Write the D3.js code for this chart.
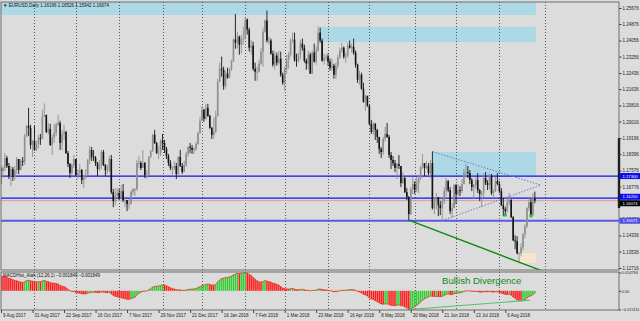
<!DOCTYPE html>
<html>
<head>
<meta charset="utf-8">
<script src="https://cdn.jsdelivr.net/npm/d3@7"></script>
<style>
  body { margin: 0; background: #dcdcdc; }
  svg { display: block; font-family: "Liberation Sans", Arial, sans-serif; }
</style>
</head>
<body>
<script>
const width = 640;
const height = 321;

// ---- data ----
const chartTitle = "EURUSD,Daily";
const startDate = new Date(2017, 7, 9);
const holidays = ["2017-12-25", "2018-01-01"];
const firstOpen = 1.1765;

const closes = [
  // Aug 2017
  1.1755,1.1770,1.1820,1.1780,1.1730,1.1765,1.1725,1.1760,1.1815,1.1760,1.1805,1.1800,1.1925,1.1980,1.1970,1.1885,1.1905,
  // Sep
  1.1860,1.1890,1.1920,1.1915,1.2025,1.2035,1.1950,1.1965,1.1885,1.1920,1.1945,1.1985,1.1995,1.1895,1.1940,1.1950,1.1845,1.1790,1.1745,1.1785,1.1815,
  // Oct
  1.1735,1.1745,1.1760,1.1710,1.1730,1.1735,1.1810,1.1860,1.1825,1.1820,1.1795,1.1765,1.1785,1.1850,1.1785,1.1760,1.1760,1.1815,1.1650,1.1605,1.1630,1.1645,
  // Nov
  1.1620,1.1655,1.1610,1.1610,1.1590,1.1590,1.1650,1.1665,1.1665,1.1795,1.1795,1.1770,1.1795,1.1735,1.1735,1.1825,1.1855,1.1935,1.1895,1.1845,1.1845,1.1905,
  // Dec
  1.1895,1.1865,1.1830,1.1795,1.1770,1.1770,1.1780,1.1740,1.1825,1.1780,1.1750,1.1785,1.1840,1.1875,1.1870,1.1860,1.1865,1.1890,1.1945,1.2005,
  // Jan 2018
  1.2060,1.2015,1.2070,1.2030,1.1970,1.1935,1.1950,1.2030,1.2200,1.2265,1.2260,1.2180,1.2240,1.2220,1.2260,1.2300,1.2410,1.2395,1.2425,1.2385,1.2415,1.2415,
  // Feb
  1.2510,1.2460,1.2370,1.2380,1.2265,1.2250,1.2250,1.2290,1.2350,1.2450,1.2505,1.2405,1.2405,1.2340,1.2285,1.2330,1.2295,1.2315,1.2235,1.2195,
  // Mar
  1.2265,1.2310,1.2335,1.2405,1.2410,1.2310,1.2305,1.2335,1.2390,1.2370,1.2305,1.2290,1.2335,1.2240,1.2345,1.2300,1.2355,1.2445,1.2405,1.2305,1.2320,1.2325,
  // Apr
  1.2300,1.2270,1.2280,1.2235,1.2280,1.2320,1.2355,1.2370,1.2325,1.2330,1.2380,1.2370,1.2375,1.2345,1.2285,1.2210,1.2235,1.2165,1.2100,1.2130,1.2080,
  // May
  1.1990,1.1950,1.1990,1.1960,1.1925,1.1865,1.1850,1.1915,1.1940,1.1925,1.1835,1.1810,1.1795,1.1770,1.1790,1.1780,1.1695,1.1720,1.1650,1.1625,1.1540,1.1665,1.1690,
  // Jun
  1.1660,1.1695,1.1720,1.1775,1.1795,1.1770,1.1780,1.1745,1.1795,1.1570,1.1610,1.1625,1.1585,1.1570,1.1605,1.1655,1.1705,1.1660,1.1555,1.1570,1.1685,
  // Jul
  1.1640,1.1660,1.1655,1.1690,1.1745,1.1750,1.1745,1.1710,1.1675,1.1685,1.1710,1.1660,1.1640,1.1645,1.1720,1.1695,1.1685,1.1730,1.1645,1.1655,1.1705,1.1690,
  // Aug
  1.1655,1.1585,1.1565,1.1555,1.1600,1.1610,1.1525,1.1410,1.1405,1.1345,1.1345,1.1375,1.1440,1.1480,1.1570,1.1600,1.1535,1.16196,1.16074
];

const highs = [
  1.1775,1.1782,1.1845,1.1830,1.1795,1.1780,1.1775,1.1780,1.1825,1.1815,1.1815,1.1825,1.1940,1.1985,1.2070,1.1985,1.1910,
  1.1980,1.1905,1.1935,1.1940,1.2060,1.2092,1.2035,1.1995,1.1990,1.1935,1.1990,1.1995,1.2035,1.2005,1.1960,1.1985,1.1955,1.1855,1.1795,1.1790,1.1835,
  1.1815,1.1765,1.1790,1.1765,1.1735,1.1765,1.1815,1.1880,1.1875,1.1860,1.1830,1.1800,1.1810,1.1860,1.1860,1.1790,1.1785,1.1830,1.1835,1.1665,1.1670,1.1670,
  1.1665,1.1685,1.1690,1.1620,1.1610,1.1615,1.1660,1.1670,1.1670,1.1810,1.1830,1.1805,1.1860,1.1800,1.1760,1.1830,1.1860,1.1940,1.1960,1.1900,1.1880,1.1915,
  1.1940,1.1910,1.1875,1.1840,1.1810,1.1780,1.1805,1.1795,1.1830,1.1860,1.1795,1.1805,1.1850,1.1880,1.1895,1.1885,1.1875,1.1900,1.1950,1.2025,
  1.2080,1.2065,1.2090,1.2090,1.2035,1.1975,1.2020,1.2055,1.2215,1.2295,1.2325,1.2275,1.2255,1.2270,1.2270,1.2310,1.2415,1.2537,1.2450,1.2430,1.2435,1.2475,
  1.2520,1.2515,1.2470,1.2410,1.2400,1.2295,1.2275,1.2310,1.2370,1.2470,1.2510,1.2555,1.2425,1.2415,1.2355,1.2355,1.2345,1.2355,1.2350,1.2245,
  1.2275,1.2335,1.2350,1.2415,1.2445,1.2445,1.2340,1.2345,1.2410,1.2415,1.2385,1.2315,1.2355,1.2345,1.2355,1.2390,1.2375,1.2476,1.2470,1.2415,1.2340,1.2335,
  1.2340,1.2315,1.2315,1.2290,1.2295,1.2335,1.2370,1.2395,1.2375,1.2345,1.2395,1.2405,1.2390,1.2415,1.2355,1.2290,1.2255,1.2245,1.2195,1.2135,1.2130,
  1.2085,1.2010,1.2000,1.1995,1.1965,1.1925,1.1875,1.1925,1.1975,1.1995,1.1935,1.1850,1.1830,1.1810,1.1795,1.1835,1.1780,1.1750,1.1725,1.1670,1.1630,1.1675,1.1725,
  1.1705,1.1725,1.1735,1.1780,1.1840,1.1795,1.1805,1.1795,1.1810,1.1852,1.1625,1.1645,1.1625,1.1605,1.1620,1.1675,1.1720,1.1710,1.1675,1.1595,1.1690,
  1.1690,1.1690,1.1680,1.1715,1.1765,1.1791,1.1780,1.1760,1.1720,1.1690,1.1725,1.1745,1.1665,1.1655,1.1745,1.1750,1.1710,1.1745,1.1740,1.1665,1.1725,1.1745,
  1.1705,1.1670,1.1620,1.1575,1.1620,1.1645,1.1615,1.1530,1.1435,1.1430,1.1350,1.1395,1.1445,1.1490,1.1575,1.1625,1.1615,1.1645,1.16526
];

const lows = [
  1.1690,1.1720,1.1755,1.1770,1.1715,1.1680,1.1705,1.1710,1.1740,1.1740,1.1765,1.1780,1.1785,1.1930,1.1930,1.1865,1.1825,
  1.1855,1.1855,1.1870,1.1885,1.1925,1.2025,1.1945,1.1935,1.1880,1.1835,1.1895,1.1930,1.1980,1.1860,1.1860,1.1910,1.1840,1.1775,1.1720,1.1735,1.1770,
  1.1730,1.1715,1.1735,1.1690,1.1670,1.1715,1.1730,1.1790,1.1805,1.1805,1.1780,1.1730,1.1755,1.1765,1.1780,1.1730,1.1740,1.1750,1.1640,1.1575,1.1585,1.1630,
  1.1610,1.1615,1.1600,1.1575,1.1555,1.1565,1.1590,1.1635,1.1630,1.1655,1.1770,1.1760,1.1770,1.1720,1.1715,1.1730,1.1820,1.1850,1.1890,1.1840,1.1815,1.1830,
  1.1860,1.1845,1.1815,1.1780,1.1760,1.1730,1.1760,1.1715,1.1730,1.1775,1.1740,1.1755,1.1775,1.1825,1.1845,1.1840,1.1840,1.1855,1.1885,1.1940,
  1.2005,1.2000,1.2010,1.2025,1.1965,1.1915,1.1915,1.1945,1.2025,1.2200,1.2225,1.2160,1.2165,1.2215,1.2225,1.2255,1.2300,1.2365,1.2365,1.2335,1.2340,1.2385,
  1.2410,1.2435,1.2350,1.2335,1.2255,1.2205,1.2205,1.2245,1.2285,1.2275,1.2445,1.2395,1.2385,1.2335,1.2275,1.2260,1.2280,1.2285,1.2225,1.2185,
  1.2155,1.2240,1.2265,1.2325,1.2395,1.2300,1.2275,1.2295,1.2310,1.2355,1.2295,1.2260,1.2260,1.2240,1.2240,1.2295,1.2285,1.2350,1.2395,1.2300,1.2285,1.2305,
  1.2280,1.2255,1.2255,1.2215,1.2215,1.2265,1.2315,1.2345,1.2315,1.2295,1.2320,1.2365,1.2345,1.2335,1.2270,1.2195,1.2185,1.2160,1.2095,1.2055,1.2075,
  1.1985,1.1940,1.1935,1.1910,1.1895,1.1840,1.1820,1.1835,1.1900,1.1920,1.1820,1.1765,1.1780,1.1750,1.1715,1.1765,1.1675,1.1690,1.1645,1.1610,1.1510,1.1535,1.1640,
  1.1640,1.1650,1.1645,1.1710,1.1765,1.1730,1.1765,1.1735,1.1720,1.1563,1.1540,1.1565,1.1530,1.1535,1.1508,1.1590,1.1630,1.1650,1.1540,1.1525,1.1570,
  1.1590,1.1630,1.1630,1.1645,1.1690,1.1725,1.1720,1.1690,1.1655,1.1615,1.1665,1.1645,1.1605,1.1575,1.1625,1.1685,1.1660,1.1665,1.1635,1.1620,1.1650,1.1685,
  1.1645,1.1580,1.1530,1.1530,1.1550,1.1585,1.1520,1.1405,1.1365,1.1340,1.1301,1.1330,1.1360,1.1420,1.1470,1.1555,1.1530,1.1530,1.15942
];

// MACD histogram (12,26,1), in units of 0.0001
const macdPips = [
  119,116,115,110,102,97,89,84,81,74,71,67,74,82,85,80,78,
  73,72,73,72,80,83,77,74,66,63,61,58,55,44,38,34,24,12,0,-5,-6,
  -13,-17,-19,-24,-25,-25,-20,-14,-12,-11,-12,-14,-14,-9,-11,-14,-15,-12,-24,-37,-44,-48,
  -54,-56,-61,-64,-68,-69,-64,-57,-51,-33,-20,-12,-4,-3,-2,8,17,30,36,37,38,44,
  48,47,41,33,25,18,14,8,9,7,3,3,6,11,13,14,15,18,25,33,
  42,45,52,54,51,47,46,52,70,87,99,101,106,108,112,117,129,135,141,140,142,143,
  147.94,144,133,124,108,93,80,72,70,75,82,78,74,70,62,58,52,46,34,22,
  17,15,14,17,19,13,9,8,11,12,8,4,4,-1,3,3,6,13,15,10,8,7,
  4,0,-2,-7,-7,-4,0,4,3,4,8,9,10,8,3,-5,-9,-17,-28,-33,-42,
  -56,-66,-70,-80,-88,-98,-106,-108,-106,-105,-112,-117,-119,-120,-117,-114,-121,-122,-130,-138,-151.11,-146,-138,
  -129,-118,-106,-91,-76,-66,-56,-50,-40,-45,-46,-45,-47,-48,-44,-37,-28,-25,-30,-31,-22,
  -21,-18,-16,-12,-6,-2,0,-1,-4,-5,-4,-7,-10,-11,-7,-7,-8,-5,-9,-10,-8,-8,
  -12,-18,-24,-29,-29,-28,-35,-50,-61,-73,-80,-82,-78,-71,-58,-45,-41,-30,-18.49
];

const priceTicks = [1.12716, 1.13536, 1.14336, 1.15156, 1.15956, 1.16776, 1.17576, 1.18396, 1.19196,
  1.20016, 1.20816, 1.21636, 1.22436, 1.23256, 1.24056, 1.24876, 1.25676];
const levels = [1.17300, 1.16200, 1.15071];

// drawn objects: bar index + price
const zones = [
  {from: -1, to: 271.5, top: 1.2640, bottom: 1.2533},
  {from: 162, to: 271.5, top: 1.2473, bottom: 1.2398},
  {from: 219, to: 271.5, top: 1.1850, bottom: 1.1730}
];
const peachBox = {from: 263, to: 271.5, top: 1.1346, bottom: 1.1297};
const triangleLines = [[219, 1.1852, 274, 1.1685], [224, 1.1508, 274, 1.1685]];
const trendLine = [207, 1.1510, 263, 1.1301];
const arrowMarks = [[256, 1.1536], [269, 1.1531]];
const divergenceLine = [207, -151.11, 268.5, -76];

// ---- layout ----
const panelL = 1, panelR = 619;
const mainTop = 2, mainBottom = 270;
const subTop = 272, subBottom = 310;

const svg = d3.select("body").append("svg")
    .attr("width", width)
    .attr("height", height);

svg.append("rect").attr("width", width).attr("height", height).attr("fill", "#dcdcdc");

// trading calendar (weekdays without the two holidays)
const dates = [];
const dayKey = d3.timeFormat("%Y-%m-%d");
for (let d = new Date(startDate); dates.length < closes.length + 8; d.setDate(d.getDate() + 1)) {
    if (d.getDay() === 0 || d.getDay() === 6 || holidays.includes(dayKey(d))) continue;
    dates.push(new Date(d));
}

const bars = closes.map((c, i) => {
    const o = i === 0 ? firstOpen : closes[i - 1];
    return {i, o, c, h: Math.max(highs[i], o, c), l: Math.min(lows[i], o, c)};
});

const x = d3.scaleLinear().domain([0, 256]).range([1, 505.3]);
const y = d3.scaleLinear().domain([priceTicks[0], priceTicks[priceTicks.length - 1]]).range([268, 8]);

const macd = macdPips.map(v => v / 10000);
const ym = d3.scaleLinear().domain(d3.extent(macd)).range([309.5, 272.5]);

const defs = svg.append("defs");
defs.append("clipPath").attr("id", "clipMain").append("rect")
    .attr("x", panelL).attr("y", mainTop).attr("width", panelR - panelL).attr("height", mainBottom - mainTop);
defs.append("clipPath").attr("id", "clipSub").append("rect")
    .attr("x", panelL).attr("y", subTop).attr("width", panelR - panelL).attr("height", subBottom - subTop);

const main = svg.append("g").attr("clip-path", "url(#clipMain)");
const sub = svg.append("g").attr("clip-path", "url(#clipSub)");

// zones
main.selectAll(".zone").data(zones).enter().append("rect")
    .attr("x", d => x(d.from)).attr("width", d => x(d.to) - x(d.from))
    .attr("y", d => y(d.top)).attr("height", d => y(d.bottom) - y(d.top))
    .attr("fill", "#add8e6");
main.append("rect")
    .attr("x", x(peachBox.from)).attr("width", x(peachBox.to) - x(peachBox.from))
    .attr("y", y(peachBox.top)).attr("height", y(peachBox.bottom) - y(peachBox.top))
    .attr("fill", "#f6e4cc");

// month separators
const monthStarts = d3.range(1, dates.length).filter(i => dates[i].getMonth() !== dates[i - 1].getMonth() && x(i) < panelR);
[[main, mainTop, mainBottom], [sub, subTop, subBottom]].forEach(([g, t, b]) => {
    g.selectAll(".sep").data(monthStarts).enter().append("line")
        .attr("x1", d => Math.round(x(d)) + 0.5).attr("x2", d => Math.round(x(d)) + 0.5)
        .attr("y1", t).attr("y2", b)
        .attr("stroke", "#555").attr("stroke-dasharray", "1,2");
});

// horizontal levels
main.selectAll(".level").data(levels).enter().append("line")
    .attr("x1", panelL).attr("x2", panelR)
    .attr("y1", d => y(d)).attr("y2", d => y(d))
    .attr("stroke", (d, i) => i === 2 ? "#5a5ae0" : "#1010f0")
    .attr("stroke-width", (d, i) => i === 2 ? 2 : 1.3);
main.append("line")
    .attr("x1", panelL).attr("x2", panelR)
    .attr("y1", y(closes[closes.length - 1])).attr("y2", y(closes[closes.length - 1]))
    .attr("stroke", "#e49a9a").attr("stroke-width", 1);

// triangle (dotted)
main.selectAll(".tri").data(triangleLines).enter().append("line")
    .attr("x1", d => x(d[0])).attr("y1", d => y(d[1]))
    .attr("x2", d => x(d[2])).attr("y2", d => y(d[3]))
    .attr("stroke", "#7676c8").attr("stroke-dasharray", "1.5,1.5");

// candles
const candle = main.selectAll(".bar").data(bars).enter().append("g")
    .attr("stroke", d => d.c >= d.o ? "#8e8e8e" : "#141414")
    .attr("fill", d => d.c >= d.o ? "#8e8e8e" : "#141414");
candle.append("line")
    .attr("x1", d => x(d.i)).attr("x2", d => x(d.i))
    .attr("y1", d => y(d.h)).attr("y2", d => y(d.l))
    .attr("stroke-width", 0.9);
candle.append("rect")
    .attr("x", d => x(d.i) - 0.8).attr("width", 1.6)
    .attr("y", d => y(Math.max(d.o, d.c)))
    .attr("height", d => Math.max(0.8, Math.abs(y(d.o) - y(d.c))))
    .attr("stroke", "none");

// support trend line
const tSlope = (trendLine[3] - trendLine[1]) / (trendLine[2] - trendLine[0]);
main.append("line")
    .attr("x1", x(trendLine[0])).attr("y1", y(trendLine[1]))
    .attr("x2", x(280)).attr("y2", y(trendLine[1] + tSlope * (280 - trendLine[0])))
    .attr("stroke", "#0b8a0b").attr("stroke-width", 1.4);

main.selectAll(".mark").data(arrowMarks).enter().append("rect")
    .attr("x", d => x(d[0]) - 1.5).attr("y", d => y(d[1]) - 1.5)
    .attr("width", 3).attr("height", 3).attr("fill", "#22c04a");

// ---- MACD window ----
sub.selectAll(".hist").data(macd).enter().append("rect")
    .attr("x", (d, i) => x(i) - 0.75).attr("width", 1.5)
    .attr("y", d => Math.min(ym(0), ym(d)))
    .attr("height", d => Math.abs(ym(d) - ym(0)))
    .attr("fill", (d, i) => i > 0 && d > macd[i - 1] ? "#33cc33" : "#ff1a1a");
sub.append("path")
    .datum(macd)
    .attr("d", d3.line().x((d, i) => x(i)).y(d => ym(d)))
    .attr("fill", "none").attr("stroke", "#e03a22").attr("stroke-width", 0.8);
sub.append("line")
    .attr("x1", x(divergenceLine[0])).attr("y1", ym(divergenceLine[1] / 10000))
    .attr("x2", x(divergenceLine[2])).attr("y2", ym(divergenceLine[3] / 10000))
    .attr("stroke", "#5cbf78").attr("stroke-width", 1.2);
svg.append("text")
    .attr("x", 442).attr("y", 283.5)
    .attr("font-size", 9.6).attr("fill", "#13871a")
    .text("Bullish Divergence");

const lastMacd = d3.format(".6f")(macd[macd.length - 1]);
svg.append("text")
    .attr("x", 3).attr("y", 276.8)
    .attr("font-size", 4.5).attr("fill", "#111")
    .text(`MACDHist_Alah (12,26,1) ${lastMacd} ${lastMacd}`);

// ---- frames ----
const frame = svg.append("g").attr("fill", "none").attr("stroke", "#6e6e6e");
frame.append("rect").attr("x", panelL).attr("y", mainTop).attr("width", panelR - panelL).attr("height", mainBottom - mainTop);
frame.append("rect").attr("x", panelL).attr("y", subTop).attr("width", panelR - panelL).attr("height", subBottom - subTop);
svg.append("rect").attr("x", 617.8).attr("y", 138).attr("width", 2.4).attr("height", 70).attr("fill", "#1e1e1e");

// ---- axes ----
const yAxis = svg.append("g").attr("transform", `translate(${panelR},0)`)
    .call(d3.axisRight(y).tickValues(priceTicks).tickFormat(d3.format(".5f")).tickSize(2.5).tickPadding(1));
const mAxis = svg.append("g").attr("transform", `translate(${panelR},0)`)
    .call(d3.axisRight(ym).tickValues([ym.domain()[0], 0, ym.domain()[1]])
        .tickFormat(d => d === 0 ? "0.00" : d3.format(".6f")(d)).tickSize(2).tickPadding(0.6));
const fmtDate = d3.timeFormat("%-d %b %Y");
const xAxis = svg.append("g").attr("transform", `translate(0,${subBottom})`)
    .call(d3.axisBottom(x).tickValues(d3.range(0, closes.length, 16)).tickFormat(i => fmtDate(dates[i])).tickSize(3).tickPadding(1));
xAxis.selectAll("text").attr("text-anchor", "start").attr("dx", 1.5);
[yAxis, mAxis, xAxis].forEach(a => {
    a.select(".domain").remove();
    a.selectAll("line").attr("stroke", "#444");
    a.selectAll("text").attr("font-size", 4.5).attr("fill", "#222")
        .attr("font-family", "'Liberation Sans', Arial, sans-serif");
});
mAxis.selectAll("text").attr("font-size", 3.9);

// price tags on the right scale
const tags = [
    {p: closes[closes.length - 1], fill: "#000", dy: 2.6},
    {p: levels[0], fill: "#0c0cf0", dy: 0},
    {p: levels[1], fill: "#0c0cf0", dy: -1.3},
    {p: levels[2], fill: "#5050e6", dy: 0}
];
const tag = svg.selectAll(".tag").data(tags).enter().append("g")
    .attr("transform", d => `translate(${panelR + 0.5},${y(d.p) + d.dy})`);
tag.append("rect").attr("x", 0).attr("y", -3).attr("width", 21).attr("height", 6).attr("fill", d => d.fill);
tag.append("text").attr("x", 3).attr("dy", "0.35em")
    .attr("font-size", 4.2).attr("fill", "#fff").text(d => d3.format(".5f")(d.p));

// title
const last = bars[bars.length - 1];
svg.append("text")
    .attr("x", 3).attr("y", 6.8).attr("font-size", 4.5).attr("fill", "#111")
    .text(`\u25BC ${chartTitle}  ${[last.o, last.h, last.l, last.c].map(d3.format(".5f")).join(" ")}`);
</script>
</body>
</html>
